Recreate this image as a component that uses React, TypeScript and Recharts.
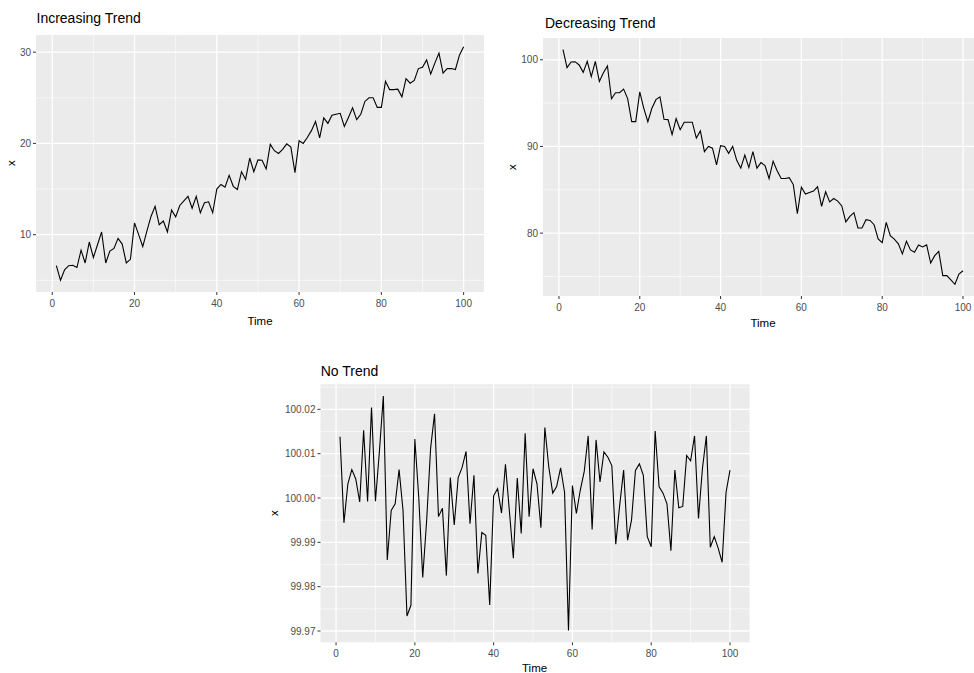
import React from 'react'
import { LineChart, Line, XAxis, YAxis, CartesianGrid } from 'recharts'

const time = Array.from({ length: 100 }, (_, i) => i + 1)

const increasing = [
  6.6, 5.0, 6.15, 6.6, 6.65, 6.4, 8.3, 6.9, 9.2, 7.5,
  8.9, 10.3, 6.9, 8.2, 8.5, 9.6, 8.97, 6.9, 7.3, 11.3,
  10.0, 8.7, 10.4, 12.0, 13.1, 11.1, 11.5, 10.3, 12.7, 11.95,
  13.2, 13.7, 14.2, 12.9, 14.2, 12.4, 13.5, 13.6, 12.4, 15.0,
  15.5, 15.2, 16.5, 15.3, 14.95, 16.9, 16.05, 18.4, 16.9, 18.2,
  18.15, 17.2, 19.9, 19.2, 18.9, 19.35, 19.95, 19.6, 16.8, 20.3,
  20.0, 20.65, 21.4, 22.4, 20.6, 22.8, 22.2, 23.1, 23.2, 23.3,
  21.85, 22.85, 23.9, 22.6, 23.2, 24.6, 25.0, 25.0, 23.95, 23.95,
  26.8, 25.9, 25.9, 25.95, 25.1, 27.1, 26.6, 26.9, 28.2, 28.35,
  29.15, 27.6, 28.8, 29.9, 27.7, 28.2, 28.2, 28.1, 29.7, 30.6,
]

const decreasing = [
  101.16, 99.1, 99.75, 99.78, 99.4, 98.55, 99.82, 98.06, 99.82, 97.5,
  98.5, 99.3, 95.5, 96.2, 96.2, 96.62, 95.52, 92.86, 92.86, 96.3,
  94.4, 92.85, 94.4, 95.4, 95.72, 93.14, 93.1, 91.36, 93.2, 91.94,
  92.8, 92.8, 92.8, 90.97, 91.8, 89.4, 90.0, 89.8, 87.87, 90.1,
  90.0, 89.2, 90.0, 88.4, 87.5, 89.0, 87.56, 89.4, 87.5, 88.14,
  87.8, 86.3, 88.3, 87.2, 86.3, 86.3, 86.4, 85.6, 82.25, 85.3,
  84.5, 84.7, 84.85, 85.35, 83.1, 84.77, 83.6, 84.0, 83.7, 83.14,
  81.3, 81.94, 82.36, 80.6, 80.6, 81.55, 81.47, 80.97, 79.34, 78.9,
  81.24, 79.7, 79.3, 78.76, 77.6, 79.07, 78.06, 77.8, 78.64, 78.4,
  78.64, 76.55, 77.4, 77.9, 75.1, 75.1, 74.6, 74.1, 75.27, 75.66,
]

const noTrend = [
  100.0138, 99.9944, 100.0032, 100.0064, 100.0043, 99.9991, 100.0153, 99.9992, 100.0204, 99.9993,
  100.0105, 100.023, 99.986, 99.9972, 99.9987, 100.0064, 99.9972, 99.9734, 99.9758, 100.0133,
  100.0, 99.9821, 99.995, 100.0112, 100.019, 99.9958, 99.9977, 99.9825, 100.0046, 99.9939,
  100.0046, 100.0069, 100.0105, 99.9942, 100.0051, 99.983, 99.9922, 99.9916, 99.9759, 100.0005,
  100.0021, 99.9966, 100.0076, 99.997, 99.9864, 100.0045, 99.992, 100.0146, 99.9958, 100.0066,
  100.0032, 99.9933, 100.0159, 100.007, 100.0011, 100.0026, 100.0068, 100.0013, 99.9701, 100.0028,
  99.9965, 100.0018, 100.006, 100.014, 99.9929, 100.0131, 100.0036, 100.0104, 100.0092, 100.0073,
  99.9896, 99.9984, 100.0063, 99.9905, 99.995, 100.0062, 100.0077, 100.0051, 99.9913, 99.989,
  100.0151, 100.0025, 100.0011, 99.9987, 99.9881, 100.0063, 99.9978, 99.9981, 100.0096, 100.0084,
  100.014, 99.9954, 100.0066, 100.014, 99.9889, 99.9913, 99.9887, 99.9855, 100.0013, 100.0063,
]

const xTicks = [0, 20, 40, 60, 80, 100]
const xMinor = [10, 30, 50, 70, 90]
const incTicks = [10, 20, 30]
const incMinor = [5, 15, 25]
const decTicks = [80, 90, 100]
const decMinor = [75, 85, 95]
const flatTicks = [99.97, 99.98, 99.99, 100.0, 100.01, 100.02]
const flatMinor = [99.975, 99.985, 99.995, 100.005, 100.015, 100.025]

const FONT = '"Liberation Sans", Arial, sans-serif'
const tickStyle = { fontSize: 10, fill: '#4D4D4D', fontFamily: FONT }

// ggplot-like 5% expansion on both sides
const expand = (vals: number[]): [number, number] => {
  const lo = Math.min(...vals)
  const hi = Math.max(...vals)
  const pad = (hi - lo) * 0.05
  return [lo - pad, hi + pad]
}

interface PanelProps {
  values: number[]
  yTicks: number[]
  yMinor: number[]
  left: number
  top: number
  width: number
  height: number
  yWidth: number
  xHeight: number
  marginTop: number
  marginRight: number
  fmt?: (v: number) => string
}

function Panel(p: PanelProps) {
  const data = time.map((t, i) => ({ t, x: p.values[i] }))
  return (
    <div style={{ position: 'absolute', left: p.left, top: p.top }}>
      <LineChart
        width={p.width}
        height={p.height}
        data={data}
        margin={{ top: p.marginTop, right: p.marginRight, bottom: 0, left: 0 }}
      >
        <CartesianGrid
          fill="#EBEBEB"
          stroke="#FFFFFF"
          strokeWidth={1.3}
          verticalValues={xTicks}
          horizontalValues={p.yTicks}
        />
        <CartesianGrid
          stroke="#FFFFFF"
          strokeWidth={0.6}
          verticalValues={xMinor}
          horizontalValues={p.yMinor}
        />
        <XAxis
          type="number"
          dataKey="t"
          domain={[-3.95, 104.95]}
          allowDataOverflow
          ticks={xTicks}
          interval={0}
          height={p.xHeight}
          axisLine={false}
          tickLine={{ stroke: '#333333' }}
          tickSize={3}
          tickMargin={5}
          tick={tickStyle}
        />
        <YAxis
          type="number"
          domain={expand(p.values)}
          allowDataOverflow
          ticks={p.yTicks}
          interval={0}
          width={p.yWidth}
          axisLine={false}
          tickLine={{ stroke: '#333333' }}
          tickSize={3}
          tickMargin={2}
          tick={tickStyle}
          tickFormatter={p.fmt}
        />
        <Line
          type="linear"
          dataKey="x"
          stroke="#000000"
          strokeWidth={1.1}
          dot={false}
          isAnimationActive={false}
        />
      </LineChart>
    </div>
  )
}

export default function App() {
  return (
    <div
      style={{
        position: 'absolute',
        left: 0,
        top: 0,
        width: 974,
        height: 673,
        overflow: 'hidden',
        background: '#fff',
        fontFamily: FONT,
      }}
    >
      <Panel values={increasing} yTicks={incTicks} yMinor={incMinor}
        left={0} top={0} width={490} height={330} yWidth={36} xHeight={38}
        marginTop={35} marginRight={6} />
      <Panel values={decreasing} yTicks={decTicks} yMinor={decMinor}
        left={500} top={0} width={483} height={335} yWidth={43} xHeight={39}
        marginTop={38} marginRight={0} />
      <Panel values={noTrend} yTicks={flatTicks} yMinor={flatMinor}
        left={260} top={340} width={490} height={340} yWidth={60.5} xHeight={37.7}
        marginTop={44.3} marginRight={0.5} fmt={(v) => v.toFixed(2)} />

      <svg width={974} height={673} style={{ position: 'absolute', left: 0, top: 0, pointerEvents: 'none' }}>
        <g fontFamily={FONT} fill="#000">
          <text x={36.5} y={23.3} fontSize={14}>Increasing Trend</text>
          <text x={545} y={28.3} fontSize={14}>Decreasing Trend</text>
          <text x={320.7} y={375.7} fontSize={14}>No Trend</text>

          <text x={260} y={325} fontSize={11.5} textAnchor="middle">Time</text>
          <text x={763} y={327} fontSize={11.5} textAnchor="middle">Time</text>
          <text x={534.6} y={671.5} fontSize={11.5} textAnchor="middle">Time</text>

          <text transform="translate(14.8,163) rotate(-90)" fontSize={11.5} textAnchor="middle">x</text>
          <text transform="translate(516,167) rotate(-90)" fontSize={11.5} textAnchor="middle">x</text>
          <text transform="translate(278,513) rotate(-90)" fontSize={11.5} textAnchor="middle">x</text>
        </g>
      </svg>
    </div>
  )
}
